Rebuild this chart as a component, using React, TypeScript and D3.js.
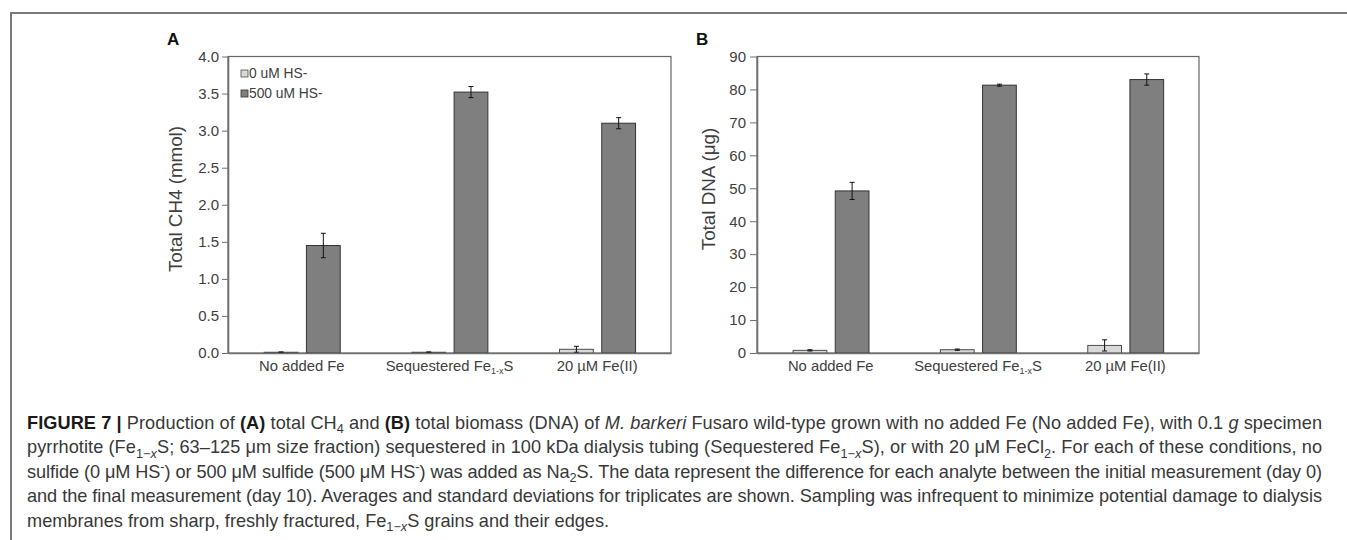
import React, { useEffect, useRef } from 'react';
import * as d3 from 'd3';

const W = 1347;
const H = 540;
const FONT = 'Liberation Sans, Arial, Helvetica, sans-serif';

// chart data
const categories = ['No added Fe', 'Sequestered Fe1-xS', '20 µM Fe(II)'];
const seriesNames = ['0 uM HS-', '500 uM HS-'];

const ch4Zero = [0.01, 0.01, 0.05];
const ch4ZeroSd = [0.005, 0.005, 0.04];
const ch4High = [1.45, 3.52, 3.1];
const ch4HighSd = [0.165, 0.075, 0.075];
const ch4Ticks = [0, 0.5, 1, 1.5, 2, 2.5, 3, 3.5, 4];

const dnaZero = [0.8, 1.0, 2.3];
const dnaZeroSd = [0.2, 0.2, 1.7];
const dnaHigh = [49.2, 81.3, 83.0];
const dnaHighSd = [2.6, 0.3, 1.7];
const dnaTicks = [0, 10, 20, 30, 40, 50, 60, 70, 80, 90];

type Seg = { t: string; s?: 'b' | 'i' | 'sub' | 'subi' | 'sup' };

const captionLines: Seg[][] = [
  [
    { t: 'FIGURE 7 |', s: 'b' },
    { t: ' Production of ' },
    { t: '(A)', s: 'b' },
    { t: ' total CH' },
    { t: '4', s: 'sub' },
    { t: ' and ' },
    { t: '(B)', s: 'b' },
    { t: ' total biomass (DNA) of ' },
    { t: 'M. barkeri', s: 'i' },
    { t: ' Fusaro wild-type grown with no added Fe (No added Fe), with 0.1 ' },
    { t: 'g', s: 'i' },
    { t: ' specimen' },
  ],
  [
    { t: 'pyrrhotite (Fe' },
    { t: '1\u2212', s: 'sub' },
    { t: 'x', s: 'subi' },
    { t: 'S; 63\u2013125 \u03bcm size fraction) sequestered in 100 kDa dialysis tubing (Sequestered Fe' },
    { t: '1\u2212', s: 'sub' },
    { t: 'x', s: 'subi' },
    { t: 'S), or with 20 \u03bcM FeCl' },
    { t: '2', s: 'sub' },
    { t: '. For each of these conditions, no' },
  ],
  [
    { t: 'sulfide (0 \u03bcM HS' },
    { t: '-', s: 'sup' },
    { t: ') or 500 \u03bcM sulfide (500 \u03bcM HS' },
    { t: '-', s: 'sup' },
    { t: ') was added as Na' },
    { t: '2', s: 'sub' },
    { t: 'S. The data represent the difference for each analyte between the initial measurement (day 0)' },
  ],
  [
    {
      t: 'and the final measurement (day 10). Averages and standard deviations for triplicates are shown. Sampling was infrequent to minimize potential damage to dialysis',
    },
  ],
  [
    { t: 'membranes from sharp, freshly fractured, Fe' },
    { t: '1\u2212', s: 'sub' },
    { t: 'x', s: 'subi' },
    { t: 'S grains and their edges.' },
  ],
];

type PanelOpts = {
  left: number;
  right: number;
  top: number;
  bottom: number;
  max: number;
  ticks: number[];
  fmt: (d: number) => string;
  zero: number[];
  zeroSd: number[];
  high: number[];
  highSd: number[];
  title: string;
  titleX: number;
  titleY: number;
  letter: string;
  tickSize: number;
  tickPad: number;
  legend: boolean;
};

const drawPanel = (svg: any, p: PanelOpts) => {
  const x0 = d3.scaleBand<string>().domain(categories).range([p.left, p.right]);
  const bw = x0.bandwidth();
  const x1 = d3
    .scaleBand<string>()
    .domain(seriesNames)
    .range([bw * 0.245, bw * 0.76])
    .paddingInner(0.2);
  const yScale = d3.scaleLinear().domain([0, p.max]).range([p.bottom, p.top]);

  // plot area border (top / right)
  svg
    .append('rect')
    .attr('x', p.left)
    .attr('y', p.top)
    .attr('width', p.right - p.left)
    .attr('height', p.bottom - p.top)
    .attr('fill', 'none')
    .attr('stroke', '#686868')
    .attr('stroke-width', 1.2);

  const series = [
    { name: seriesNames[0], vals: p.zero, sd: p.zeroSd, fill: '#d9d9d9', stroke: '#4d4d4d' },
    { name: seriesNames[1], vals: p.high, sd: p.highSd, fill: '#7f7f7f', stroke: '#333333' },
  ];

  const rows = series.flatMap(s =>
    categories.map((c, i) => ({
      x: (x0(c) as number) + (x1(s.name) as number),
      v: s.vals[i],
      sd: s.sd[i],
      fill: s.fill,
      stroke: s.stroke,
    }))
  );

  svg
    .append('g')
    .selectAll('rect')
    .data(rows)
    .join('rect')
    .attr('x', (d: any) => d.x)
    .attr('y', (d: any) => yScale(d.v))
    .attr('width', x1.bandwidth())
    .attr('height', (d: any) => yScale(0) - yScale(d.v))
    .attr('fill', (d: any) => d.fill)
    .attr('stroke', (d: any) => d.stroke)
    .attr('stroke-width', 1);

  // error bars
  const half = x1.bandwidth() / 2;
  svg
    .append('g')
    .selectAll('path')
    .data(rows)
    .join('path')
    .attr('fill', 'none')
    .attr('stroke', '#111')
    .attr('stroke-width', 1)
    .attr('d', (d: any) => {
      const cx = d.x + half;
      const lo = yScale(d.v - d.sd);
      const hi = yScale(d.v + d.sd);
      return `M${cx - 2.5},${lo}H${cx + 2.5}M${cx},${lo}V${hi}M${cx - 2.5},${hi}H${cx + 2.5}`;
    });

  // y axis
  const ay = svg
    .append('g')
    .attr('transform', `translate(${p.left},0)`)
    .call(
      d3
        .axisLeft(yScale)
        .tickValues(p.ticks)
        .tickSize(p.tickSize)
        .tickSizeOuter(0)
        .tickPadding(p.tickPad)
        .tickFormat(p.fmt as any)
    );
  ay.select('.domain').attr('stroke', '#707070').attr('stroke-width', 1.6);
  ay.selectAll('.tick line').attr('stroke', '#707070');
  ay.selectAll('text').attr('font-size', 15).attr('fill', '#404040').attr('font-family', FONT);

  // x axis
  const ax = svg
    .append('g')
    .attr('transform', `translate(0,${p.bottom})`)
    .call(d3.axisBottom(x0).tickSize(0).tickSizeOuter(0).tickPadding(7));
  ax.select('.domain').attr('stroke', '#707070').attr('stroke-width', 1.6);
  ax.selectAll('text').each(function (this: SVGTextElement, d: any) {
    const t = d3.select(this);
    t.text(null).attr('font-size', 14.8).attr('fill', '#404040').attr('font-family', FONT);
    const m = /^(.*Fe)(1-x)(S)$/.exec(d);
    if (m) {
      t.append('tspan').text(m[1]);
      t.append('tspan').attr('font-size', 9).attr('dy', 3).text(m[2]);
      t.append('tspan').attr('dy', -3).text(m[3]);
    } else {
      t.text(d);
    }
  });

  // axis title
  svg
    .append('text')
    .attr('transform', `translate(${p.titleX},${p.titleY}) rotate(-90)`)
    .attr('text-anchor', 'middle')
    .attr('dominant-baseline', 'central')
    .attr('font-family', FONT)
    .attr('font-size', 18.8)
    .attr('fill', '#404040')
    .text(p.title);

  // panel letter
  svg
    .append('text')
    .attr('x', p.left - 61)
    .attr('y', 45)
    .attr('font-family', FONT)
    .attr('font-weight', 'bold')
    .attr('font-size', 17)
    .attr('fill', '#111')
    .text(p.letter);

  if (p.legend) {
    const lg = svg.append('g').attr('transform', `translate(${p.left + 13},${p.top + 17})`);
    series.forEach((s, i) => {
      const row = lg.append('g').attr('transform', `translate(0,${i * 20})`);
      row
        .append('rect')
        .attr('x', 0)
        .attr('y', -3.5)
        .attr('width', 7)
        .attr('height', 7)
        .attr('fill', s.fill)
        .attr('stroke', s.stroke)
        .attr('stroke-width', 0.8);
      row
        .append('text')
        .attr('x', 8)
        .attr('y', 0)
        .attr('dominant-baseline', 'central')
        .attr('font-family', FONT)
        .attr('font-size', 13.8)
        .attr('fill', '#404040')
        .text(s.name);
    });
  }
};

const drawCaption = (svg: any) => {
  const x = 27;
  const width = 1295;
  const size = 17.5;
  const g = svg
    .append('g')
    .attr('font-family', FONT)
    .attr('font-size', size)
    .attr('fill', '#383838');
  const texts: SVGTextElement[] = [];

  captionLines.forEach((line, li) => {
    const t = g.append('text').attr('x', 0).attr('y', 429 + li * 24.5);
    let shift = 0;
    line.forEach(seg => {
      const small = seg.s === 'sub' || seg.s === 'subi' || seg.s === 'sup';
      const k = small ? 0.7 : 1;
      const target = seg.s === 'sub' || seg.s === 'subi' ? 0.25 : seg.s === 'sup' ? -0.38 : 0;
      const ts = t.append('tspan').text(seg.t);
      if (small) ts.attr('font-size', '70%');
      if (target !== shift) ts.attr('dy', `${(target - shift) / k}em`);
      shift = target;
      if (seg.s === 'b') ts.attr('font-weight', 'bold').attr('fill', '#1a1a1a');
      if (seg.s === 'i' || seg.s === 'subi') ts.attr('font-style', 'italic');
    });
    texts.push(t.node());
  });

  // condensed look: squeeze horizontally so full lines fill the measure
  const full = texts.slice(0, 4);
  const avg = d3.mean(full, n => n.getComputedTextLength()) || width;
  const sx = width / avg;
  g.attr('transform', `translate(${x},0) scale(${sx},1)`);
  full.forEach(n => {
    n.setAttribute('textLength', String(width / sx));
    n.setAttribute('lengthAdjust', 'spacing');
  });
};

export default function App() {
  const ref = useRef<SVGSVGElement>(null);

  useEffect(() => {
    document.body.style.margin = '0';
    const svg = d3.select(ref.current);
    svg.selectAll('*').remove();

    svg.append('rect').attr('width', W).attr('height', H).attr('fill', '#fff');

    // figure frame
    svg
      .append('path')
      .attr('d', `M11,${H} V13 H${W}`)
      .attr('fill', 'none')
      .attr('stroke', '#7a7a7a')
      .attr('stroke-width', 2);

    drawPanel(svg, {
      left: 228,
      right: 671,
      top: 56.5,
      bottom: 353,
      max: 4,
      ticks: ch4Ticks,
      fmt: d3.format('.1f'),
      zero: ch4Zero,
      zeroSd: ch4ZeroSd,
      high: ch4High,
      highSd: ch4HighSd,
      title: 'Total CH4 (mmol)',
      titleX: 175,
      titleY: 199,
      letter: 'A',
      tickSize: 6,
      tickPad: 3,
      legend: true,
    });

    drawPanel(svg, {
      left: 757,
      right: 1199,
      top: 56.5,
      bottom: 353,
      max: 90,
      ticks: dnaTicks,
      fmt: d3.format('d'),
      zero: dnaZero,
      zeroSd: dnaZeroSd,
      high: dnaHigh,
      highSd: dnaHighSd,
      title: 'Total DNA (\u03bcg)',
      titleX: 708,
      titleY: 189,
      letter: 'B',
      tickSize: 7,
      tickPad: 4,
      legend: false,
    });

    drawCaption(svg);

    return () => {
      svg.selectAll('*').remove();
    };
  }, []);

  return (
    <svg
      ref={ref}
      width={W}
      height={H}
      style={{ display: 'block', position: 'absolute', left: 0, top: 0 }}
    />
  );
}
